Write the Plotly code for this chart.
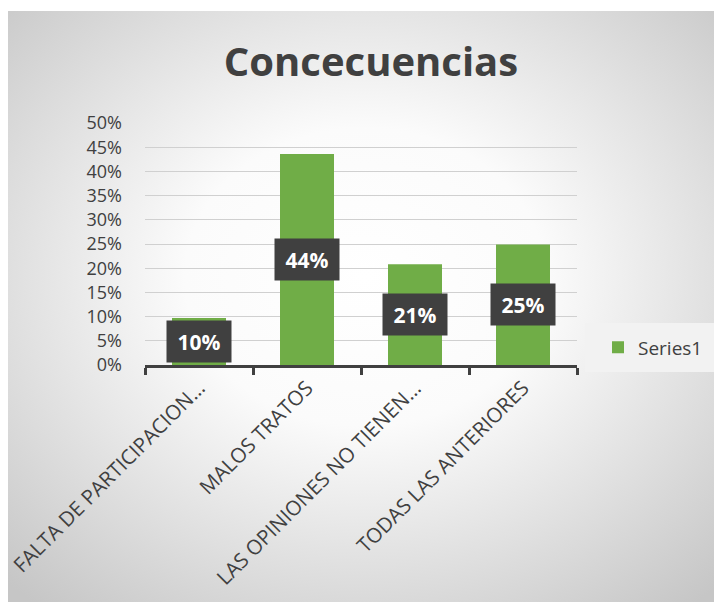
import base64

import plotly.graph_objects as go

# Datos
categorias = [
    "FALTA DE PARTICIPACION…",
    "MALOS TRATOS",
    "LAS OPINIONES NO TIENEN…",
    "TODAS LAS ANTERIORES",
]
valores = [0.097, 0.436, 0.208, 0.249]
serie = "Series1"
titulo = "Concecuencias"

VERDE = "#70ad47"
GRIS_TXT = "#404040"
FUENTE = "Open Sans"

# la página añade 8 px de margen al body: todo se mide en px de pantalla - 8
OFF = 8
W, H = 722 - OFF, 602 - OFF
L, T = 145 - OFF, 123 - OFF
R, B = W - (577 - OFF), H - (365 - OFF)
pw, ph = W - L - R, H - T - B


def px_x(sx):
    return (sx - OFF - L) / pw


def px_y(sy):
    return (H - B - (sy - OFF)) / ph


# fondo con degradado radial (como el área de gráfico de Excel)
svg = (
    '<svg xmlns="http://www.w3.org/2000/svg" width="714" height="591" '
    'preserveAspectRatio="none" viewBox="0 0 714 591">'
    '<defs><radialGradient id="g" cx="50%" cy="45%" r="72%">'
    '<stop offset="0" stop-color="#ffffff"/>'
    '<stop offset="0.35" stop-color="#fbfbfb"/>'
    '<stop offset="1" stop-color="#c6c6c6"/>'
    '</radialGradient></defs>'
    '<rect width="714" height="591" fill="url(#g)"/></svg>'
)
fondo = "data:image/svg+xml;base64," + base64.b64encode(svg.encode()).decode()

fig = go.Figure(go.Bar(
    x=categorias, y=valores, name=serie,
    marker=dict(color=VERDE, line=dict(width=0)),
    width=0.5, showlegend=True,
))

for cat, v in zip(categorias, valores):
    fig.add_annotation(
        x=cat, y=v / 2, text=f"<b>{v:.0%}</b>", showarrow=False,
        font=dict(family=FUENTE, size=21, color="white"),
        bgcolor=GRIS_TXT, width=52, height=29, borderpad=6,
    )

fig.add_layout_image(
    source=fondo, xref="paper", yref="paper",
    x=px_x(8), y=px_y(11), sizex=(W - 0) / pw, sizey=(H - 3) / ph,
    xanchor="left", yanchor="top", sizing="stretch", layer="below",
)
# caja de la leyenda
fig.add_shape(
    type="rect", xref="paper", yref="paper",
    x0=px_x(585), x1=px_x(716), y0=px_y(372), y1=px_y(323),
    fillcolor="#f2f2f2", line=dict(width=0), layer="below",
)

fig.update_layout(
    width=W, height=H,
    margin=dict(l=L, r=R, t=T, b=B, autoexpand=False),
    paper_bgcolor="white", plot_bgcolor="rgba(0,0,0,0)",
    font=dict(family=FUENTE, color=GRIS_TXT),
    title=dict(
        text=f"<b>{titulo}</b>", x=(371 - OFF) / W, xref="container",
        xanchor="center", y=1 - (62 - OFF) / H, yref="container",
        yanchor="middle",
        font=dict(family=FUENTE, size=40, color=GRIS_TXT),
    ),
    legend=dict(
        x=px_x(598), y=px_y(347.5), xanchor="left", yanchor="middle",
        bgcolor="rgba(0,0,0,0)", font=dict(size=19, color=GRIS_TXT),
        itemwidth=30,
    ),
    bargap=0.5,
)
fig.update_yaxes(
    range=[0, 0.5], dtick=0.05, tickformat=".0%",
    showgrid=True, gridcolor="#d0d0d0", gridwidth=1, zeroline=False,
    showline=False, ticks="", ticklabelstandoff=22,
    tickfont=dict(size=18, color=GRIS_TXT),
)
fig.update_xaxes(
    showline=True, linecolor=GRIS_TXT, linewidth=3,
    ticks="outside", tickson="boundaries", ticklen=7, tickwidth=3,
    tickcolor=GRIS_TXT, tickangle=-45,
    tickfont=dict(size=20.5, color=GRIS_TXT),
)

fig.write_html("out.html")
